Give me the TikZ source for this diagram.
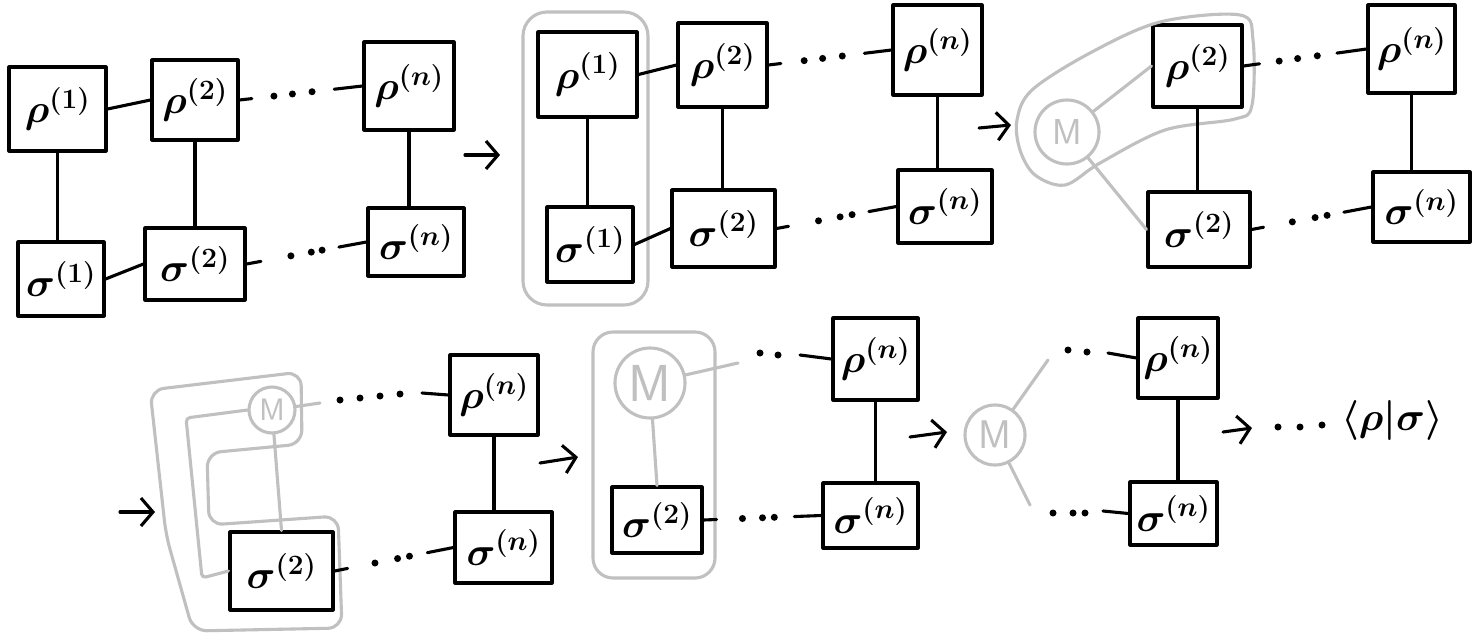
\RequirePackage{fix-cm}
\documentclass[tikz,border=0pt]{standalone}
\usepackage{fontspec}
\usetikzlibrary{calc,arrows.meta}
\definecolor{pale}{RGB}{192,192,192}
\tikzset{
  ink/.style={line width=3.1pt, line cap=round, line join=round},
  halo/.style={draw=pale, line width=3.1pt, line cap=round, line join=round},
  tensor/.style={draw, ink, inner sep=0pt, font=\fontsize{40}{46}\selectfont\boldmath},
  meas/.style={circle, draw=pale, line width=3.1pt, text=pale, inner sep=0pt},
  flow/.style={ink, -{Straight Barb[length=12pt,width=28pt,line width=3.1pt]}},
}
% box node: name, centre, width, height, label
\newcommand\tens[5]{\node[tensor, minimum width=#3, minimum height=#4] (#1) at (#2) {$#5$};}
% vertical bond straight down from the upper box
\newcommand\vlink[2]{\draw[ink] (#1.south) -- (#1.south |- #2.north);}
% dotted bond: from, to, end of first stroke, dot positions, start of last stroke
\newcommand\dotlink[5]{%
  \draw[ink] (#1.east) -- ($(#1.east)!#3!(#2.west)$);
  \foreach \f in {#4} \fill ($(#1.east)!\f!(#2.west)$) circle (3.5);
  \draw[ink] ($(#1.east)!#5!(#2.west)$) -- (#2.west);
}
\begin{document}
\begin{tikzpicture}[x=1pt,y=-1pt]
\useasboundingbox[fill=white] (0,0) rectangle (1475,643);

% ---- stage 1: full network
\tens{r1a}{57.5,109}{97}{84}{\rho^{(1)}}
\tens{r2a}{195,100}{86}{80}{\rho^{(2)}}
\tens{rna}{409,86}{90}{88}{\rho^{(n)}}
\tens{s1a}{61,279}{86}{74}{\sigma^{(1)}}
\tens{s2a}{195,264}{100}{72}{\sigma^{(2)}}
\tens{sna}{416,242}{96}{68}{\sigma^{(n)}}
\draw[ink] (r1a.east) -- (r2a.west);
\draw[ink] (s1a.east) -- (s2a.west);
\vlink{r1a}{s1a}
\vlink{r2a}{s2a}
\vlink{rna}{sna}
\dotlink{r2a}{rna}{0.1}{0.28,0.43,0.59}{0.77}
\dotlink{s2a}{sna}{0.12}{0.37,0.54,0.63}{0.77}
\coordinate (a1s) at (465,155);
\coordinate (a1e) at (500,155);
\draw[flow] (a1s) -- (a1e);

% ---- stage 2: first pair grouped
\draw[halo, rounded corners=24] (523,12) rectangle (648,305);
\tens{r1b}{587.5,74.5}{99}{85}{\rho^{(1)}}
\tens{s1b}{590,244.5}{86}{75}{\sigma^{(1)}}
\tens{r2b}{722.5,65}{89}{84}{\rho^{(2)}}
\tens{s2b}{723.5,228.5}{103}{77}{\sigma^{(2)}}
\tens{rnb}{937.5,50}{89}{90}{\rho^{(n)}}
\tens{snb}{945,206.5}{94}{73}{\sigma^{(n)}}
\draw[ink] (r1b.east) -- (r2b.west);
\draw[ink] (s1b.east) -- (s2b.west);
\vlink{r1b}{s1b}
\vlink{r2b}{s2b}
\vlink{rnb}{snb}
\dotlink{r2b}{rnb}{0.1}{0.29,0.44,0.6}{0.78}
\dotlink{s2b}{snb}{0.1}{0.35,0.53,0.63}{0.77}
\coordinate (a2s) at (979,128);
\coordinate (a2e) at (1011,125);
\draw[flow] (a2s) -- (a2e);

% ---- stage 3: contracted pair M joined with rho^(2)
\node[meas, minimum size=64, font=\fontsize{36}{40}\sffamily] (M3) at (1067,132) {M};
\tens{r2c}{1197.5,66}{89}{82}{\rho^{(2)}}
\tens{s2c}{1199,229.5}{102}{75}{\sigma^{(2)}}
\tens{rnc}{1411.5,49}{87}{88}{\rho^{(n)}}
\tens{snc}{1421.5,207}{97}{70}{\sigma^{(n)}}
\draw[halo] plot[smooth cycle, tension=0.55] coordinates {
  (1017,120) (1032,90) (1090,53) (1160,22) (1240,15) (1253,40) (1252,105)
  (1235,119) (1165,130) (1100,163) (1065,185) (1035,175) (1020,150)};
\draw[halo] (M3) -- (r2c.west);
\draw[halo] (M3) -- (s2c.west);
\vlink{r2c}{s2c}
\vlink{rnc}{snc}
\dotlink{r2c}{rnc}{0.13}{0.29,0.44,0.6}{0.76}
\dotlink{s2c}{snc}{0.1}{0.34,0.53,0.63}{0.77}

% ---- stage 4: M joined with sigma^(2)
\coordinate (a4s) at (120,512);
\coordinate (a4e) at (155,512);
\draw[flow] (a4s) -- (a4e);
\draw[halo, rounded corners=14] (150,390) -- (301,372) -- (302,444) -- (207,453)
  -- (209,525) -- (338,516) -- (342,628) -- (193,631) -- (166,535) -- cycle;
\node[meas, minimum size=46, font=\fontsize{31}{34}\sffamily] (M4) at (272,410) {M};
\tens{rnd}{494,395}{88}{80}{\rho^{(n)}}
\tens{s2d}{281.5,571}{103}{78}{\sigma^{(2)}}
\tens{snd}{503.5,547.5}{97}{71}{\sigma^{(n)}}
\coordinate (k1) at (186,418);
\coordinate (k2) at (202,578);
\draw[halo, rounded corners=4] (M4.west) -- (k1) -- (k2) -- (s2d.west);
\draw[halo] (M4) -- (s2d.north);
\coordinate (m4r) at (320,403);
\draw[halo] (M4) -- (m4r);
\foreach \p in {(340,400),(360,398),(380,396),(400,394)} \fill \p circle (3.5);
\coordinate (d4) at (422,393);
\draw[ink] (d4) -- (rnd.west);
\vlink{rnd}{snd}
\dotlink{s2d}{snd}{0.11}{0.34,0.53,0.63}{0.78}
\coordinate (a5s) at (540,463);
\coordinate (a5e) at (578,457);
\draw[flow] (a5s) -- (a5e);

% ---- stage 5: M and sigma^(2) grouped
\draw[halo, rounded corners=20] (593,332) rectangle (715,578);
\node[meas, minimum size=70, font=\fontsize{52}{56}\sffamily] (M5) at (650,383) {M};
\tens{rne}{875.5,359}{85}{82}{\rho^{(n)}}
\tens{s2e}{657,520}{90}{66}{\sigma^{(2)}}
\tens{sne}{870.5,515.5}{95}{65}{\sigma^{(n)}}
\coordinate (m5r) at (738,363);
\draw[halo] (M5) -- (m5r);
\foreach \p in {(760,353),(778,355)} \fill \p circle (3.5);
\coordinate (d5) at (800,355);
\draw[ink] (d5) -- (rne.west);
\draw[halo] (M5) -- (s2e.north);
\vlink{rne}{sne}
\dotlink{s2e}{sne}{0.11}{0.33,0.5,0.6}{0.77}
\coordinate (a6s) at (910,437);
\coordinate (a6e) at (947,432);
\draw[flow] (a6s) -- (a6e);

% ---- stage 6: M linking the remaining chain
\node[meas, minimum size=60, font=\fontsize{40}{44}\sffamily] (M6) at (995,435) {M};
\tens{rnf}{1178,358}{80}{80}{\rho^{(n)}}
\tens{snf}{1173.5,513.5}{87}{63}{\sigma^{(n)}}
\coordinate (m6u) at (1048,360);
\coordinate (m6d) at (1030,505);
\draw[halo] (M6) -- (m6u);
\draw[halo] (M6) -- (m6d);
\foreach \p in {(1068,350),(1087,352)} \fill \p circle (3.5);
\foreach \p in {(1053,513),(1073,513),(1085,513)} \fill \p circle (3.5);
\coordinate (d6u) at (1108,353);
\coordinate (d6d) at (1103,511);
\draw[ink] (d6u) -- (rnf.west);
\draw[ink] (d6d) -- (snf.west);
\vlink{rnf}{snf}
\coordinate (a7s) at (1223,432);
\coordinate (a7e) at (1252,428);
\draw[flow] (a7s) -- (a7e);
\foreach \p in {(1278,427),(1300,427),(1322,425)} \fill \p circle (3.5);
\node[font=\fontsize{40}{46}\selectfont\boldmath, inner sep=0pt] (ip) at (1392,420) {$\langle\rho|\sigma\rangle$};
\end{tikzpicture}
\end{document}
